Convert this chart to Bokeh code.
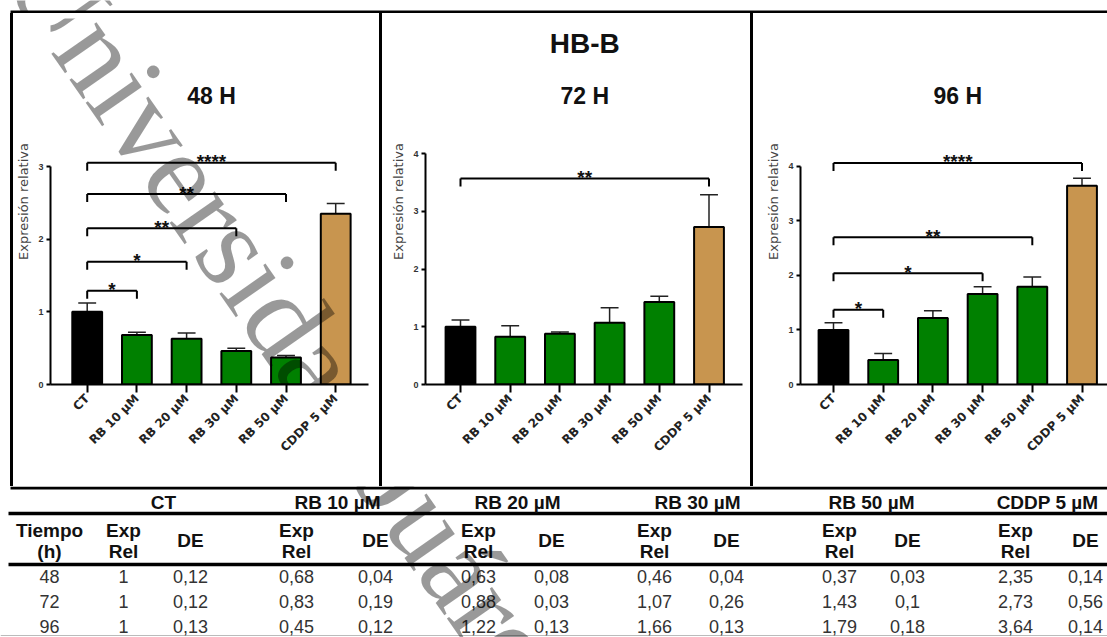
import math
from bokeh.plotting import figure
from bokeh.layouts import row, column
from bokeh.models import Range1d, Spacer, Label, FixedTicker, ColumnDataSource
from bokeh.core.properties import value
from bokeh.embed import file_html
from bokeh.resources import INLINE

# ---------------- data ----------------
categories = ["CT", "RB 10 µM", "RB 20 µM", "RB 30 µM", "RB 50 µM", "CDDP 5 µM"]
hours = [48, 72, 96]
exp_48 = [1, 0.68, 0.63, 0.46, 0.37, 2.35]
de_48 = [0.12, 0.04, 0.08, 0.04, 0.03, 0.14]
exp_72 = [1, 0.83, 0.88, 1.07, 1.43, 2.73]
de_72 = [0.12, 0.19, 0.03, 0.26, 0.1, 0.56]
exp_96 = [1, 0.45, 1.22, 1.66, 1.79, 3.64]
de_96 = [0.13, 0.12, 0.13, 0.13, 0.18, 0.14]
y_max_48, y_max_72, y_max_96 = 3, 4, 4

# significance brackets (CT vs target category)
sig_48_to = [1, 2, 3, 4, 5]
sig_48_y = [1.29, 1.69, 2.15, 2.62, 3.05]
sig_48_lab = ["*", "*", "**", "**", "****"]
sig_72_to = [5]
sig_72_y = [3.57]
sig_72_lab = ["**"]
sig_96_to = [1, 3, 4, 5]
sig_96_y = [1.37, 2.04, 2.70, 4.06]
sig_96_lab = ["*", "*", "**", "****"]

main_title = "HB-B"
panel_titles = ["48 H", "72 H", "96 H"]
y_label = "Expresión relativa"
time_header = ["Tiempo", "(h)"]
exp_header = ["Exp", "Rel"]
de_header = "DE"
watermark = "Universidad Juárez"

# ---------------- styles / layout ----------------
bar_colors = ["#000000", "#008000", "#008000", "#008000", "#008000", "#C8954F"]
BAR_PX = 49.7          # px between category centres
ZERO_Y = 384           # page y of value 0
TOP = 13               # page y of panel canvas top
PANEL_H = 473
FT = 5                 # border above frame
SANS = "Liberation Sans"

WM_X, WM_Y = 32.7, -43.2   # page position of watermark anchor
WM_ANGLE = -math.radians(55)
WM_SIZE = "120px"


def add_watermark(p, to_x, to_y):
    p.add_layout(Label(x=to_x(WM_X), y=to_y(WM_Y), text=watermark,
                       angle=WM_ANGLE, text_font="Liberation Serif",
                       text_font_size=WM_SIZE, text_color="#000000",
                       text_alpha=0.40, text_align="left",
                       text_baseline="middle"))


def make_panel(x0, w, axis_x, right_x, ct_x, ymax_py, ymax, exp, de,
               sig_to, sig_y, sig_lab, title, big_title=None, wm=False):
    ppu = (ZERO_Y - ymax_py) / ymax
    frame_h = ZERO_Y - (TOP + FT)
    xs = -(ct_x - axis_x) / BAR_PX
    xe = (right_x - ct_x) / BAR_PX
    p = figure(width=w, height=PANEL_H,
               x_range=Range1d(xs, xe), y_range=Range1d(0, frame_h / ppu),
               min_border_left=axis_x - x0, min_border_right=x0 + w - right_x,
               min_border_top=FT, min_border_bottom=TOP + PANEL_H - ZERO_Y,
               output_backend="svg", toolbar_location=None)
    p.xgrid.visible = False
    p.ygrid.visible = False
    p.outline_line_color = None
    p.background_fill_color = "white"
    p.border_fill_color = "white"

    idx = list(range(len(categories)))
    src = ColumnDataSource(dict(
        x=idx, top=exp, etop=[e + d for e, d in zip(exp, de)],
        cl=[i - 0.18 for i in idx], cr=[i + 0.18 for i in idx],
        color=bar_colors))
    p.segment(x0="x", y0="top", x1="x", y1="etop", source=src,
              line_color="#222222", line_width=1.5)
    p.segment(x0="cl", y0="etop", x1="cr", y1="etop", source=src,
              line_color="#222222", line_width=1.5)
    p.vbar(x="x", top="top", bottom=0, width=0.6, source=src,
           fill_color="color", line_color="black", line_width=2)

    # significance brackets
    tick = 8 / ppu
    n = len(sig_to)
    p.segment(x0=[0] * n, y0=sig_y, x1=sig_to, y1=sig_y,
              line_color="black", line_width=2)
    p.segment(x0=[0] * n, y0=sig_y, x1=[0] * n, y1=[y - tick for y in sig_y],
              line_color="black", line_width=2)
    p.segment(x0=sig_to, y0=sig_y, x1=sig_to, y1=[y - tick for y in sig_y],
              line_color="black", line_width=2)
    p.text(x=[t / 2 for t in sig_to], y=[y + 1 / ppu for y in sig_y],
           text=sig_lab, text_align="center", text_baseline="alphabetic",
           text_font=value(SANS), text_font_style="bold",
           text_font_size="19px", text_color="#111111")

    mid = (len(categories) - 1) / 2
    p.text(x=[mid], y=[(ZERO_Y - 95) / ppu], text=[title],
           text_align="center", text_baseline="middle",
           text_font=value(SANS), text_font_style="bold",
           text_font_size="23px", text_color="#111111")
    if big_title:
        p.text(x=[mid], y=[(ZERO_Y - 43) / ppu], text=[big_title],
               text_align="center", text_baseline="middle",
               text_font=value(SANS), text_font_style="bold",
               text_font_size="28px", text_color="#111111")

    # axes
    xa = p.xaxis[0]
    ya = p.yaxis[0]
    xa.ticker = FixedTicker(ticks=idx)
    xa.major_label_overrides = {i: c for i, c in enumerate(categories)}
    xa.major_label_orientation = math.pi / 4
    xa.major_tick_out = 8
    xa.major_label_standoff = 4
    xa.major_label_text_font = "DejaVu Sans"
    xa.major_label_text_font_style = "bold"
    xa.major_label_text_font_size = "12px"
    xa.major_label_text_color = "#222222"
    ya.ticker = FixedTicker(ticks=list(range(ymax + 1)))
    ya.bounds = (0, ymax)
    ya.major_tick_out = 4
    ya.major_label_standoff = 3
    ya.major_label_text_font = SANS
    ya.major_label_text_font_style = "bold"
    ya.major_label_text_font_size = "9px"
    ya.major_label_text_color = "#333333"
    ya.axis_label = y_label
    ya.axis_label_text_font = "DejaVu Sans"
    ya.axis_label_text_font_style = "normal"
    ya.axis_label_text_font_size = "13px"
    ya.axis_label_text_color = "#444444"
    ya.axis_label_standoff = 4
    for ax in (xa, ya):
        ax.axis_line_width = 2
        ax.axis_line_color = "black"
        ax.major_tick_line_width = 2
        ax.major_tick_line_color = "black"
        ax.major_tick_in = 0
        ax.minor_tick_line_color = None

    if wm:
        add_watermark(p, lambda px: xs + (px - axis_x) / BAR_PX,
                      lambda py: (ZERO_Y - py) / ppu)
    return p


def blank(w, h):
    """Plain figure in page-pixel coordinates (y downwards)."""
    f = figure(width=w, height=h, x_range=Range1d(0, w),
               y_range=Range1d(h, 0), min_border=0,
               x_axis_location=None, y_axis_location=None,
               output_backend="svg", toolbar_location=None)
    f.grid.visible = False
    f.outline_line_color = None
    f.background_fill_color = "white"
    f.border_fill_color = "white"
    return f


f1 = make_panel(13, 366, 50, 368, 86.7, 166, y_max_48, exp_48, de_48,
                sig_48_to, sig_48_y, sig_48_lab, panel_titles[0], wm=True)
f2 = make_panel(382, 368, 425, 742, 460, 153.3, y_max_72, exp_72, de_72,
                sig_72_to, sig_72_y, sig_72_lab, panel_titles[1],
                big_title=main_title, wm=True)
f3 = make_panel(753, 354, 800, 1107, 833, 165.7, y_max_96, exp_96, de_96,
                sig_96_to, sig_96_y, sig_96_lab, panel_titles[2])

# ---------------- top strip (margin + top border) ----------------
TOP_H = 13
strip = blank(1107, TOP_H)
strip.quad(left=[10], right=[1107], top=[10], bottom=[13],
           fill_color="black", line_color=None)
add_watermark(strip, lambda px: px, lambda py: py)

# ---------------- table (with panel bottom border) ----------------
T_TOP = 486
T_H = 637 - T_TOP
t = blank(1107, T_H)


def ly(py):
    return py - T_TOP


t.quad(left=[10], right=[1107], top=[ly(486)], bottom=[ly(489)],
       fill_color="black", line_color=None)

TIME_X = 49
PAIR_X = [(123, 190), (296, 375), (478, 551), (654, 726), (839, 907), (1015, 1085)]
GROUP_X = [163, 337, 517, 697, 871, 1047]
ROW_Y = [576, 601, 626]

t.segment(x0=[8, 8], y0=[ly(513), ly(564)], x1=[1107, 1107],
          y1=[ly(513), ly(564)], line_color="black", line_width=3.5)
t.segment(x0=[0], y0=[ly(635)], x1=[1107], y1=[ly(635)],
          line_color="#bbbbbb", line_width=1)

hdr = dict(text_font=value(SANS), text_font_style="bold",
           text_font_size="19px", text_color="#111111",
           text_align="center", text_baseline="middle")
t.text(x=GROUP_X, y=[ly(502)] * len(categories), text=categories, **hdr)
sub_x, sub_y, sub_t = [TIME_X, TIME_X], [ly(530), ly(551)], list(time_header)
for ex, dx in PAIR_X:
    sub_x += [ex, ex, dx]
    sub_y += [ly(530), ly(551), ly(540)]
    sub_t += [exp_header[0], exp_header[1], de_header]
t.text(x=sub_x, y=sub_y, text=sub_t, **hdr)


def fmt(v):
    return f"{v:g}".replace(".", ",")


all_exp = [exp_48, exp_72, exp_96]
all_de = [de_48, de_72, de_96]
cx, cy, ct = [], [], []
for r, hr in enumerate(hours):
    cx.append(TIME_X)
    cy.append(ly(ROW_Y[r]))
    ct.append(str(hr))
    for j, (ex, dx) in enumerate(PAIR_X):
        cx += [ex, dx]
        cy += [ly(ROW_Y[r]), ly(ROW_Y[r])]
        ct += [fmt(all_exp[r][j]), fmt(all_de[r][j])]
t.text(x=cx, y=cy, text=ct, text_font=value(SANS), text_font_size="18px",
       text_color="#333333", text_align="center", text_baseline="middle")

add_watermark(t, lambda px: px, lambda py: py - T_TOP)


# ---------------- layout ----------------
def black(w, h):
    return Spacer(width=w, height=h, styles={"background-color": "black"})


panel_row = row(Spacer(width=10, height=PANEL_H), black(3, PANEL_H), f1,
                black(3, PANEL_H), f2, black(3, PANEL_H), f3)
page = column(strip, panel_row, t)

open("out.html", "w").write(file_html(page, INLINE))
